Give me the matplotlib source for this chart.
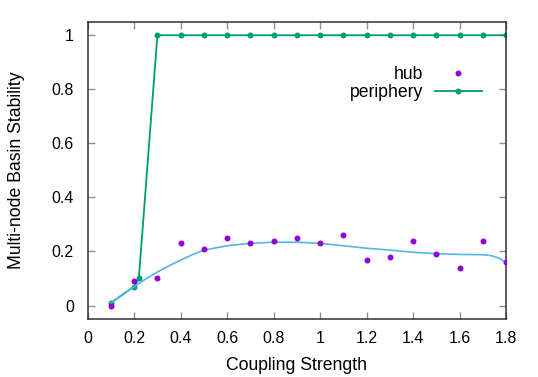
import numpy as np
import matplotlib
matplotlib.use('Agg')
import matplotlib.pyplot as plt
from matplotlib.ticker import FuncFormatter

plt.rcParams['font.family'] = ['Liberation Sans', 'DejaVu Sans']

# hub: scattered points
hub_x = [0.1, 0.2, 0.3, 0.4, 0.5, 0.6, 0.7, 0.8, 0.9, 1.0, 1.1, 1.2, 1.3, 1.4, 1.5, 1.6, 1.7, 1.8]
hub_y = [0.0, 0.09, 0.10, 0.23, 0.21, 0.25, 0.23, 0.24, 0.25, 0.23, 0.26, 0.17, 0.18, 0.24, 0.19, 0.14, 0.24, 0.16]

# smoothed hub trend
fit_x = [0.1, 0.15, 0.2, 0.25, 0.3, 0.35, 0.4, 0.45, 0.5, 0.6, 0.7, 0.8, 0.9, 1.0,
         1.1, 1.2, 1.3, 1.4, 1.5, 1.6, 1.7, 1.74, 1.77, 1.8]
fit_y = [0.009, 0.041, 0.070, 0.098, 0.124, 0.147, 0.168, 0.188, 0.205, 0.221, 0.230, 0.234, 0.234, 0.230,
         0.221, 0.212, 0.205, 0.197, 0.192, 0.189, 0.188, 0.184, 0.175, 0.159]

# periphery: line + points
per_x = [0.1, 0.2, 0.22, 0.3, 0.4, 0.5, 0.6, 0.7, 0.8, 0.9, 1.0, 1.1, 1.2, 1.3, 1.4, 1.5, 1.6, 1.7, 1.8]
per_y = [0.01, 0.07, 0.10, 1, 1, 1, 1, 1, 1, 1, 1, 1, 1, 1, 1, 1, 1, 1, 1]

x_ticks = [0, 0.2, 0.4, 0.6, 0.8, 1.0, 1.2, 1.4, 1.6, 1.8]
y_ticks = [0, 0.2, 0.4, 0.6, 0.8, 1.0]

fig = plt.figure(figsize=(5.38, 3.77), dpi=100)
ax = fig.add_axes([0.163, 0.1538, 0.9405 - 0.163, 0.9424 - 0.1538])

ax.plot(hub_x, hub_y, 'o', color='#9400D3', ms=4.3, mec='none', label='hub', zorder=3)
ax.plot(per_x, per_y, '-o', color='#009E73', lw=1.3, ms=4.3, mec='none', label='periphery', zorder=2)
ax.plot(fit_x, fit_y, '-', color='#56B4E9', lw=1.2, zorder=2)

ax.set_xlim(0, 1.8)
ax.set_ylim(-0.05, 1.05)
ax.set_xticks(x_ticks)
ax.set_yticks(y_ticks)
fmt = FuncFormatter(lambda v, p: ('%g' % round(v, 2)))
ax.xaxis.set_major_formatter(fmt)
ax.yaxis.set_major_formatter(fmt)
ax.tick_params(direction='in', length=5, width=1, color='#909090', labelsize=11.5,
               top=True, right=True, labelcolor='black')
ax.tick_params(axis='x', pad=8.5)
ax.tick_params(axis='y', pad=10)
for s in ax.spines.values():
    s.set_color('#303030')
    s.set_linewidth(1.1)

ax.set_xlabel('Coupling Strength', fontsize=12.7, labelpad=8)
ax.set_ylabel('Multi-node Basin Stability', fontsize=12.7, labelpad=19)

ax.legend(loc='upper right', bbox_to_anchor=(0.963, 0.88), markerfirst=False, frameon=False,
          fontsize=12.7, handlelength=2.64, numpoints=1, labelspacing=0.05, handletextpad=0.67,
          borderpad=0)

fig.savefig('out.png', dpi=100)
